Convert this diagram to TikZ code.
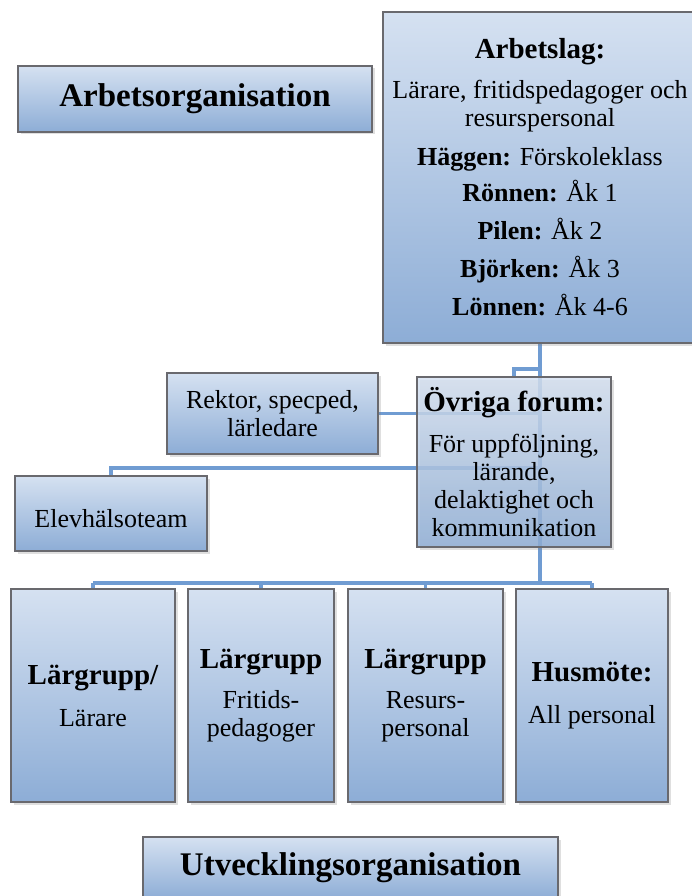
\documentclass[tikz,border=0pt]{standalone}
\usepackage{fontspec}
\setmainfont{Liberation Serif}
\usetikzlibrary{shadows}
\definecolor{boxtop}{RGB}{213,225,241}
\definecolor{boxbot}{RGB}{141,173,214}
\definecolor{boxline}{RGB}{105,105,110}
\definecolor{linkblue}{RGB}{112,156,210}
\newcommand{\hd}[1]{{\fontsize{29}{29}\selectfont\bfseries #1}}
\newcommand{\ttl}[1]{{\fontsize{33}{33}\selectfont\bfseries #1}}
\tikzset{
  orgbox/.style={draw=boxline, line width=1.1pt, top color=boxtop, bottom color=boxbot,
    drop shadow={shadow xshift=2.5pt, shadow yshift=-2.5pt, opacity=0.25},
    align=center, inner sep=2pt, font=\fontsize{26}{28}\selectfont},
  link/.style={draw=linkblue, line width=3.6pt}
}

\begin{document}
\begin{tikzpicture}[x=1pt,y=-1pt]
      \useasboundingbox (0,0) rectangle (691,896);

      % junctions on the trunk
      \coordinate (jov) at (540,369);
      \coordinate (jrek) at (540,413.5);
      \coordinate (jelev) at (540,468);
      \coordinate (bus) at (540,583);

      % lower row
      \node (l1) at (93,695.5) [orgbox, minimum width=164, minimum height=213] {\hd{Lärgrupp/}\\[14pt]Lärare};
      \node (l2) at (261,695.5) [orgbox, minimum width=146, minimum height=213] {\hd{Lärgrupp}\\[12pt]Fritids-\\pedagoger};
      \node (l3) at (425.5,695.5) [orgbox, minimum width=155, minimum height=213] {\hd{Lärgrupp}\\[12pt]Resurs-\\personal};
      \node (l4) at (592,695.5) [orgbox, minimum width=152, minimum height=213] {\hd{Husmöte:}\\[14pt]All personal};

      % connectors
      \draw[link] (540,343) -- (bus);
      \draw[link] (jov) -| (514,377);
      \draw[link] (jrek) -- (378,413.5);
      \draw[link] (jelev) -| (111,476);
      \draw[link] (l1.north |- bus) -- (l4.north |- bus);
      \foreach \b in {l1,l2,l3,l4}
      {
        \draw[link] (\b.north |- bus) -- (\b.north);
      }

      \node (arborg) at (195,99) [orgbox, minimum width=354, minimum height=66] {\ttl{Arbetsorganisation}};
      \node (arbetslag) at (540,177.5) [orgbox, minimum width=314, minimum height=331]
        {\hd{Arbetslag:}\\[12pt]Lärare, fritidspedagoger och\\resurspersonal\\[11pt]
         \textbf{Häggen:} Förskoleklass\\[8pt]\textbf{Rönnen:} Åk 1\\[10pt]\textbf{Pilen:} Åk 2\\[10pt]
         \textbf{Björken:} Åk 3\\[10pt]\textbf{Lönnen:} Åk 4-6};
      \node (rektor) at (272.5,413.5) [orgbox, minimum width=211, minimum height=81] {Rektor, specped,\\lärledare};
      \node (ovriga) at (514,462) [orgbox, minimum width=194, minimum height=170, fill opacity=0.82, text opacity=1]
        {\hd{Övriga forum:}\\[13pt]För uppföljning,\\lärande,\\delaktighet och\\kommunikation};
      \node (elev) at (111,513.5) [orgbox, minimum width=192, minimum height=75] {\mbox{}\\Elevhälsoteam};

      \node (utv) at (350.5,868) [orgbox, minimum width=415, minimum height=62] {\ttl{Utvecklingsorganisation}};
\end{tikzpicture}
\end{document}
